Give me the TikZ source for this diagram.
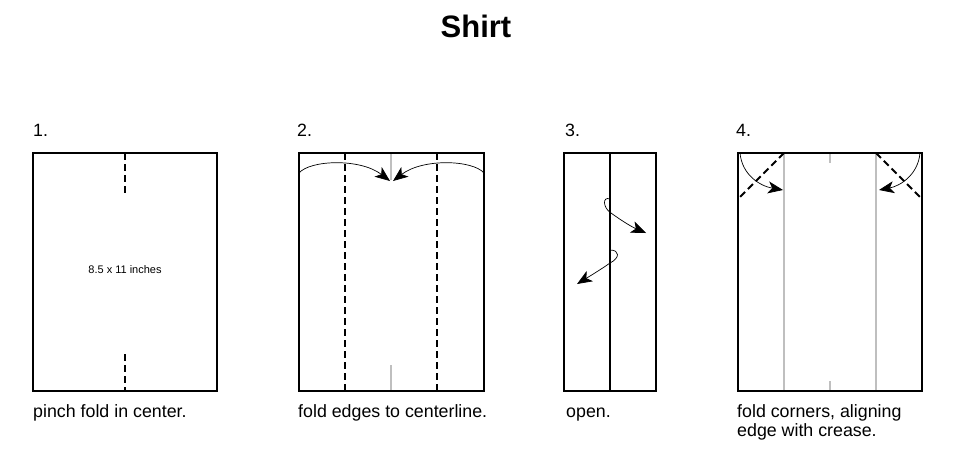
\documentclass[tikz,border=0pt]{standalone}
\usepackage{fontspec}
\setmainfont{Liberation Sans}
\usetikzlibrary{arrows.meta}
\begin{document}
\begin{tikzpicture}[x=1pt,y=-1pt,
    paper/.style={line width=2pt},
    crease/.style={line width=2pt,dash pattern=on 7pt off 4pt},
    guide/.style={line width=1.2pt,black!25},
    flow/.style={line width=0.7pt,-{Stealth[length=15pt,width=12pt,inset=4pt]}},
    steplabel/.style={anchor=base west,inner sep=0pt,font=\fontsize{17.8}{21}\selectfont}]
    \useasboundingbox (0,0) rectangle (957,459);
    \node[anchor=base,inner sep=0pt,font=\bfseries\fontsize{31}{36}\selectfont] (title) at (476,37) {Shirt};
    % step 1
    \draw[paper] (33,153) rectangle (217,391);
    \draw[crease] (125,153)--(125,194);
    \draw[crease] (125,354)--(125,391);
    \node[font=\fontsize{11}{13}\selectfont] (size) at (125,270) {8.5 x 11 inches};
    \node[steplabel] (num1) at (33,136) {1.};
    \node[steplabel] (cap1) at (33,417) {pinch fold in center.};
    % step 2
    \draw[guide] (391,153)--(391,180);
    \draw[guide] (391,365)--(391,391);
    \draw[paper] (299,153) rectangle (484,391);
    \draw[crease] (345,153)--(345,391);
    \draw[crease] (437,153)--(437,391);
    \draw[flow] (299,173) .. controls (310,160) and (360,158) .. (390,181);
    \draw[flow] (484,173) .. controls (473,160) and (423,158) .. (393,181);
    \node[steplabel] (num2) at (297,136) {2.};
    \node[steplabel] (cap2) at (298,417) {fold edges to centerline.};
    % step 3
    \draw[paper] (564,153) rectangle (656,391);
    \draw[paper] (610,153)--(610,391);
    \draw[flow] (610,199) .. controls (602,196) and (603,208) .. (611,213) .. controls (622,221) and (632,227) .. (646,233);
    \draw[flow] (610,250) .. controls (620,250) and (620,258) .. (610,263) .. controls (600,270) and (590,276) .. (577,284);
    \node[steplabel] (num3) at (565,136) {3.};
    \node[steplabel] (cap3) at (566,417) {open.};
    % step 4
    \draw[guide] (784,153)--(784,391);
    \draw[guide] (876,153)--(876,391);
    \draw[guide] (830,153)--(830,163);
    \draw[guide] (830,381)--(830,391);
    \draw[paper] (738,153) rectangle (922,391);
    \draw[crease] (784,153)--(738,199);
    \draw[crease] (876,153)--(922,199);
    \draw[flow] (740,153) .. controls (742,175) and (760,186) .. (783,190);
    \draw[flow] (920,153) .. controls (918,175) and (900,186) .. (879,190);
    \node[steplabel] (num4) at (736,136) {4.};
    \node[steplabel] (cap4) at (737,417) {fold corners, aligning};
    \node[steplabel] (cap4b) at (737,436) {edge with crease.};
\end{tikzpicture}
\end{document}
